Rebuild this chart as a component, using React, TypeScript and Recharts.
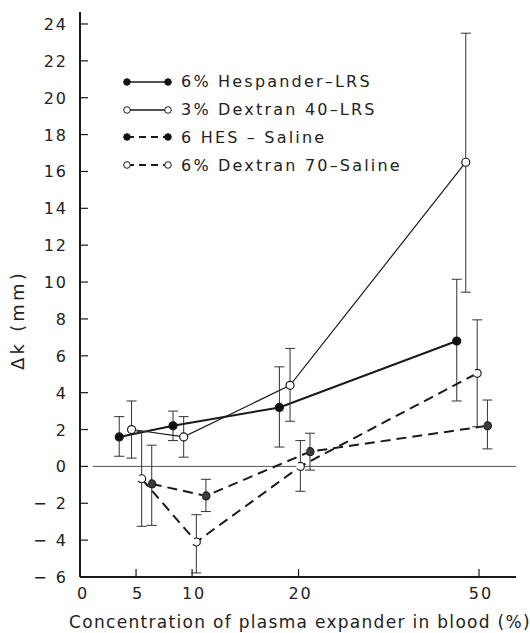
import React from 'react'
import { LineChart, Line, XAxis, YAxis, ErrorBar, ReferenceLine, Legend } from 'recharts'

// x = concentration of expander in blood (%), y = Δk (mm); low/high are the error bar ends
const hespanderConc = [3.5, 8.3, 18.2, 46.3]
const hespanderDk = [1.6, 2.2, 3.2, 6.8]
const hespanderLow = [0.55, 1.4, 1.05, 3.55]
const hespanderHigh = [2.7, 3.0, 5.4, 10.15]

const dextran40Conc = [4.6, 9.25, 19.2, 47.8]
const dextran40Dk = [2.0, 1.6, 4.4, 16.5]
const dextran40Low = [0.45, 0.5, 2.45, 9.45]
const dextran40High = [3.55, 2.7, 6.4, 23.5]

const hesSalineConc = [6.4, 11.3, 21.9, 51.4]
const hesSalineDk = [-0.95, -1.6, 0.8, 2.2]
const hesSalineLow = [-3.2, -2.45, -0.2, 0.95]
const hesSalineHigh = [1.15, -0.7, 1.8, 3.6]

const dextran70Conc = [5.5, 10.4, 20.3, 49.7]
const dextran70Dk = [-0.67, -4.1, 0.0, 5.05]
const dextran70Low = [-3.25, -5.78, -1.35, 2.15]
const dextran70High = [1.9, -2.62, 1.4, 7.95]

const xTickConc = [0, 5, 10, 20, 50]
const yTicks = [-6, -4, -2, 0, 2, 4, 6, 8, 10, 12, 14, 16, 18, 20, 22, 24]

// the printed x axis is not linear: it is stretched below 20 % and squeezed above
const scaleConc = [0, 10, 20, 50]
const scaleStop = [0, 10, 19.5, 35.6]
const axisEnd = 38.9

const FONT = '"DejaVu Sans", sans-serif'
const INK = '#1a1a1a'

const toAxis = (c: number) => {
  let i = 0
  while (i < scaleConc.length - 2 && c > scaleConc[i + 1]) i++
  const t = (c - scaleConc[i]) / (scaleConc[i + 1] - scaleConc[i])
  return scaleStop[i] + t * (scaleStop[i + 1] - scaleStop[i])
}

const build = (conc: number[], dk: number[], low: number[], high: number[]) =>
  conc.map((c, i) => ({ pos: toAxis(c), dk: dk[i], err: [dk[i] - low[i], high[i] - dk[i]] }))

const series = [
  { name: '6% Hespander–LRS', data: build(hespanderConc, hespanderDk, hespanderLow, hespanderHigh), filled: true, dashed: false, width: 2, fill: '#111' },
  { name: '3% Dextran 40–LRS', data: build(dextran40Conc, dextran40Dk, dextran40Low, dextran40High), filled: false, dashed: false, width: 1.2, fill: '#fff' },
  { name: '6 HES – Saline', data: build(hesSalineConc, hesSalineDk, hesSalineLow, hesSalineHigh), filled: true, dashed: true, width: 2, fill: '#3c3c3c' },
  { name: '6% Dextran 70–Saline', data: build(dextran70Conc, dextran70Dk, dextran70Low, dextran70High), filled: false, dashed: true, width: 2, fill: '#fff' },
]

const YTick = ({ x, y, payload }: any) => {
  const v = payload.value
  const label = v < 0 ? `− ${Math.abs(v)}` : `${v}`
  return (
    <g>
      <line x1={x + 12} x2={x + 20} y1={y} y2={y} stroke={INK} strokeWidth={1.2} />
      <text x={x} y={y} dy={6} textAnchor="end" fontFamily={FONT} fontSize={16} letterSpacing={2} fill="#222">
        {label}
      </text>
    </g>
  )
}

const XTick = ({ x, y, payload }: any) => {
  const axisY = y - 16
  const conc = xTickConc.find((c) => Math.abs(toAxis(c) - payload.value) < 0.01) ?? 0
  return (
    <g>
      {conc !== 0 && <line x1={x} x2={x} y1={axisY} y2={axisY - 8} stroke={INK} strokeWidth={1.2} />}
      <text x={x + (conc === 0 ? 3 : 2)} y={y} dy={6} textAnchor="middle" fontFamily={FONT} fontSize={16} letterSpacing={2} fill="#222">
        {conc}
      </text>
    </g>
  )
}

const YLabel = ({ viewBox }: any) => {
  const cx = viewBox.x + 18
  const cy = viewBox.y + viewBox.height * 0.545
  return (
    <text x={cx} y={cy} transform={`rotate(-90 ${cx} ${cy})`} textAnchor="middle" dominantBaseline="central" fontFamily={FONT} fontSize={18} letterSpacing={3.2} fill="#222">
      Δk (mm)
    </text>
  )
}

const LegendBox = () => (
  <div style={{ fontFamily: FONT, fontSize: 16, letterSpacing: 2.2, color: '#222' }}>
    {series.map((s) => (
      <div key={s.name} style={{ display: 'flex', alignItems: 'center', height: 27.8 }}>
        <svg width={52} height={12}>
          <line x1={6} x2={47} y1={6} y2={6} stroke={INK} strokeWidth={s.dashed ? 2 : 1.5} strokeDasharray={s.dashed ? '7 5' : undefined} />
          <circle cx={6} cy={6} r={3.3} fill={s.filled ? '#111' : '#fff'} stroke={INK} strokeWidth={1} />
          <circle cx={47} cy={6} r={3.3} fill={s.filled ? '#111' : '#fff'} stroke={INK} strokeWidth={1} />
        </svg>
        <span style={{ marginLeft: 8, whiteSpace: 'nowrap' }}>{s.name}</span>
      </div>
    ))}
  </div>
)

export default function App() {
  return (
    <div style={{ position: 'absolute', left: 0, top: 0, background: '#fff' }}>
      <LineChart width={530} height={633} margin={{ top: 12, right: 14, left: 0, bottom: 0 }}>
        <XAxis
          type="number"
          dataKey="pos"
          domain={[0, axisEnd]}
          ticks={xTickConc.map(toAxis)}
          tick={<XTick />}
          tickLine={false}
          tickSize={0}
          tickMargin={16}
          height={56}
          stroke={INK}
          strokeWidth={2}
          allowDataOverflow
          label={{ value: 'Concentration of plasma expander in blood (%)', position: 'insideBottom', offset: 5, fontFamily: FONT, fontSize: 17, fill: '#222', letterSpacing: 1.3, dx: 2 }}
        />
        <YAxis
          type="number"
          domain={[-6, 24.65]}
          ticks={yTicks}
          tick={<YTick />}
          tickLine={false}
          tickSize={0}
          tickMargin={12}
          width={80}
          stroke={INK}
          strokeWidth={2}
          allowDataOverflow
          label={<YLabel />}
        />
        <ReferenceLine
          segment={[{ x: toAxis(1.15), y: 0 }, { x: axisEnd, y: 0 }]}
          stroke="#555"
          strokeWidth={1}
        />
        <Legend
          layout="vertical"
          align="center"
          verticalAlign="middle"
          content={<LegendBox />}
          wrapperStyle={{ left: 121, top: 68, width: 340 }}
        />
        {series.map((s) => (
          <Line
            key={s.name}
            name={s.name}
            data={s.data}
            dataKey="dk"
            type="linear"
            stroke={INK}
            strokeWidth={s.width}
            strokeDasharray={s.dashed ? '10 6' : undefined}
            dot={{ r: 4, fill: s.fill, stroke: INK, strokeWidth: 1.2 }}
            isAnimationActive={false}
          >
            <ErrorBar dataKey="err" direction="y" width={5} stroke="#333" strokeWidth={1} />
          </Line>
        ))}
      </LineChart>
    </div>
  )
}
